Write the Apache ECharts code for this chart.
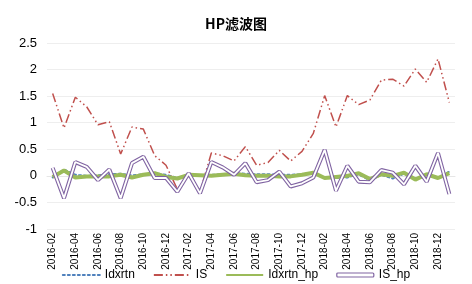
<!DOCTYPE html>
<html>
<head>
<meta charset="utf-8">
<script src="https://cdn.jsdelivr.net/npm/echarts@6/dist/echarts.min.js"></script>
<style>
html,body{margin:0;padding:0;background:#fff;}
#c{width:472px;height:284px;}
</style>
</head>
<body>
<div id="c"></div>
<script>
var categories = ['2016-02','2016-03','2016-04','2016-05','2016-06','2016-07','2016-08','2016-09','2016-10','2016-11','2016-12','2017-01',
'2017-02','2017-03','2017-04','2017-05','2017-06','2017-07','2017-08','2017-09','2017-10','2017-11','2017-12','2018-01',
'2018-02','2018-03','2018-04','2018-05','2018-06','2018-07','2018-08','2018-09','2018-10','2018-11','2018-12','2019-01'];

var idxrtn = [-0.03,0.12,0.02,0.00,0.01,0.03,0.04,0.01,0.03,0.05,0.02,-0.04,
0.02,0.01,0.02,0.03,0.05,0.04,0.03,0.03,0.02,0.02,0.03,0.06,
-0.04,-0.04,-0.03,0.03,-0.09,0.02,-0.05,0.04,-0.06,0.03,-0.04,0.08];

var isVals = [1.55,0.90,1.48,1.30,0.96,1.02,0.41,0.92,0.88,0.38,0.20,-0.25,
0.05,-0.30,0.43,0.38,0.28,0.55,0.20,0.25,0.48,0.28,0.46,0.80,
1.51,0.92,1.51,1.34,1.43,1.80,1.82,1.69,2.01,1.76,2.20,1.38];

var idxrtnHp = [-0.02,0.10,-0.03,-0.01,-0.01,-0.01,0.02,-0.03,0.02,0.05,-0.02,-0.05,
0.02,0.01,0.00,0.02,0.04,0.01,0.00,0.00,-0.01,-0.01,0.02,0.06,
-0.04,-0.02,0.00,0.05,-0.06,0.03,0.00,0.06,-0.07,0.03,-0.04,0.05];

var isHp = [0.15,-0.42,0.26,0.17,-0.08,0.12,-0.42,0.24,0.36,-0.04,-0.04,-0.30,
0.05,-0.33,0.26,0.16,0.02,0.24,-0.12,-0.08,0.08,-0.20,-0.14,-0.03,
0.49,-0.28,0.19,-0.11,-0.12,0.11,0.06,-0.16,0.19,-0.11,0.43,-0.34];

var FONT = '"Noto Sans CJK SC", "Noto Sans", sans-serif';
var NUMFONT = '"Liberation Sans", Arial, sans-serif';
var noSym = {color: 'rgba(0,0,0,0)', borderWidth: 0};
var chart = echarts.init(document.getElementById('c'), null, {renderer:'canvas'});
chart.setOption({
  animation: false,
  backgroundColor: '#fff',
  textStyle: {fontFamily: FONT},
  title: {
    text: 'HP滤波图', left: 'center', top: 12,
    textStyle: {fontSize: 14, fontWeight: 'bold', color: '#000', fontFamily: FONT}
  },
  legend: {
    bottom: 3, left: 'center', padding: 0,
    itemWidth: 37, itemHeight: 4, itemGap: 18,
    textStyle: {fontSize: 12, color: '#000', fontFamily: NUMFONT},
    data: [
      {name: 'Idxrtn', itemStyle: noSym},
      {name: 'IS', itemStyle: noSym},
      {name: 'Idxrtn_hp', itemStyle: noSym},
      {name: 'IS_hp', icon: 'roundRect', itemStyle: {color: '#fff', borderColor: '#8064a2', borderWidth: 1.2}}
    ]
  },
  grid: {left: 47, right: 17, top: 43, bottom: 55, containLabel: false, outerBoundsMode: 'none'},
  xAxis: {
    type: 'category', data: categories, boundaryGap: true,
    axisLine: {onZero: true, lineStyle: {color: '#e6e6e6'}},
    axisTick: {show: false},
    axisLabel: {rotate: 90, interval: 1, fontSize: 10, color: '#000', margin: 4, fontFamily: NUMFONT,
      align: 'right', verticalAlign: 'middle'}
  },
  yAxis: {
    type: 'value', min: -1, max: 2.5, interval: 0.5,
    axisLine: {show: false}, axisTick: {show: false},
    axisLabel: {fontSize: 13, color: '#000', margin: 10, fontFamily: NUMFONT},
    splitLine: {lineStyle: {color: '#eeeeee', width: 1}}
  },
  series: [
    {name: 'Idxrtn', type: 'line', data: idxrtn, showSymbol: false, symbol: 'none',
     lineStyle: {color: '#4f81bd', width: 2, type: [2, 3], cap: 'round'}, itemStyle: {color: '#4f81bd'}},
    {name: 'IS', type: 'line', data: isVals, showSymbol: false, symbol: 'none',
     lineStyle: {color: '#c0504d', width: 1.5, type: [9, 3, 1.5, 3, 1.5, 3]}, itemStyle: {color: '#c0504d'}},
    {name: 'Idxrtn_hp', type: 'line', data: idxrtnHp, showSymbol: false, symbol: 'none',
     lineStyle: {color: '#9bbb59', width: 4}, itemStyle: {color: '#9bbb59'}},
    {name: 'IS_hp', type: 'line', data: isHp, showSymbol: false, symbol: 'none',
     lineStyle: {color: '#8064a2', width: 4}, itemStyle: {color: '#8064a2'}},
    {name: 'IS_hp_inner', type: 'line', data: isHp, showSymbol: false, symbol: 'none', silent: true,
     lineStyle: {color: '#ffffff', width: 1.8}, itemStyle: {color: '#ffffff'}}
  ]
});
</script>
</body>
</html>
